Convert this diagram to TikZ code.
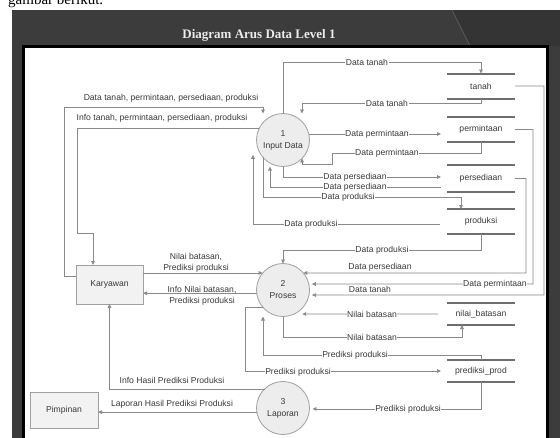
\documentclass[tikz,border=0pt]{standalone}
\usepackage{fontspec}
\setmainfont{Liberation Serif}
\newfontfamily\lbf{Liberation Sans}
\usetikzlibrary{arrows.meta}
\definecolor{framec}{HTML}{3C3C3C}
\definecolor{framed}{HTML}{343434}
\definecolor{diagc}{HTML}{595959}
\definecolor{linec}{HTML}{8A8A8A}
\definecolor{txtc}{HTML}{3A3A3A}
\definecolor{procb}{HTML}{A0A0A0}
\definecolor{procf}{HTML}{EDEDED}
\definecolor{extf}{HTML}{F2F2F2}
\definecolor{stc}{HTML}{6E6E6E}
\tikzset{
  flow/.style={draw=linec, line width=0.75pt},
  arr/.style={flow, -{Triangle[length=4pt,width=3.6pt]}},
  lbl/.style={font=\lbf\fontsize{8.6}{10.6}\selectfont, text=txtc, inner sep=0.6pt, fill=white, align=center},
  lbln/.style={lbl, fill=none},
  proc/.style={circle, draw=procb, fill=procf, line width=0.8pt, minimum size=53pt, inner sep=0pt, outer sep=0pt, align=center, font=\lbf\fontsize{8.6}{12}\selectfont, text=txtc},
  ext/.style={rectangle, draw=procb, fill=extf, line width=0.8pt, inner sep=0pt, outer sep=0pt, font=\lbf\fontsize{8.6}{10}\selectfont, text=txtc},
  store/.style={rectangle, minimum width=68pt, inner sep=0pt, outer sep=0pt, font=\lbf\fontsize{8.6}{10}\selectfont, text=txtc},
  stline/.style={draw=stc, line width=2pt}
}
\begin{document}
\begin{tikzpicture}[x=1pt,y=-1pt]
\useasboundingbox (0,0) rectangle (560,437);
% slide background
\fill[white] (0,0) rectangle (560,437);
\begin{scope}
\clip (0,0) rectangle (560,10);
\node[anchor=base west, inner sep=0pt, font=\fontsize{15}{17}\selectfont] (top) at (8,4.5) {gambar berikut.};
\end{scope}
\fill[framec] (12,10) rectangle (560,442);
\fill[framed] (452,10) -- (560,10) -- (560,46) -- (470,46) -- cycle;
\draw[diagc, line width=0.8pt] (452,10) -- (470,46);
\node[anchor=base, inner sep=0pt, text=white!92!black, font=\bfseries\fontsize{13}{15}\selectfont] (title) at (259,38.5) {Diagram Arus Data Level 1};
\draw[black, line width=3pt, fill=white] (23.5,46.5) rectangle (547.5,446);

% processes
\node[proc] (c1) at (283,140) {1\\Input Data};
\node[proc] (c2) at (283,290) {2\\Proses};
\node[proc] (c3) at (283,408) {3\\Laporan};
% external entities
\node[ext, minimum width=67pt, minimum height=39pt] (kar) at (109.5,284.5) {Karyawan};
\node[ext, minimum width=68pt, minimum height=36pt] (pim) at (64,410) {Pimpinan};
% data stores
\node[store, minimum height=25pt] (s1) at (481,86) {tanah};
\node[store, minimum height=25pt] (s2) at (481,129.5) {permintaan};
\node[store, minimum height=27pt] (s3) at (481,178.5) {persediaan};
\node[store, minimum height=25pt] (s4) at (481,221.5) {produksi};
\node[store, minimum height=22pt] (s5) at (481,314) {nilai\_batasan};
\node[store, minimum height=22pt] (s6) at (481,371) {prediksi\_prod};
\foreach \s in {s1,s2,s3,s4,s5,s6}
  \draw[stline] (\s.north west) -- (\s.north east) (\s.south west) -- (\s.south east);

% flows around process 1
\draw[arr] (c1.north) |- (481,62) -- (s1.north);
\draw[arr] (s1.south) |- (302,103) -- (c1.north -| 302,0);
\draw[arr, shorten >=6pt] (c1.13) -- (c1.13 -| s2.west);
\draw[arr] (s2.south) |- (332,153) -- (332,164) -| (c1.-44);
\draw[arr, shorten >=6pt] (c1.south) |- (s3.west |- 0,177);
\draw[arr, shorten <=6pt] (s3.west |- 0,187) -| (c1.south -| 270,0);
\draw[arr] (c1.-139) |- (461,197) -- (s4.north -| 461,0);
\draw[arr, shorten <=7pt] (s4.west |- 0,224) -| (c1.-146 -| 253,0);
\draw[arr] (kar.west |- 0,276) -| (64,107) -| (c1.north -| 263,0);
\draw[arr] (c1.153) -| (77,233) -| (kar.north -| 93,0);

% flows around process 2
\draw[arr] (c2.140 -| kar.east) -- (c2.140);
\draw[arr] (c2.-173) -- (c2.-173 -| kar.east);
\draw[arr] (s4.south) |- (c2.north |- 0,250) -- (c2.north);
\draw[arr] (s3.east) -| (526,273) -- (c2.40);
\draw[arr, shorten >=3pt] (s2.east) -| (533,284) -- (c2.13);
\draw[arr, shorten >=3pt] (s1.east) -| (544,295) -- (c2.-11);
\draw[arr, shorten >=8pt] ([xshift=-9pt]s5.west) -- (c2.-65);
\draw[arr] (c2.south) |- (462,337) -- (s5.south -| 462,0);
\draw[arr] (s6.north) |- (263,355) -- (c2.south -| 263,0);
\draw[arr, shorten >=6pt] (c2.-140) -| (245,371) -- (s6.west);

% flows around process 3
\draw[arr, shorten >=3pt] (s6.south) |- (c3.-2);
\draw[arr] (c3.134) -| (kar.south);
\draw[arr] (c3.-171) -- (c3.-171 -| pim.east);

% labels
\node[lbl] (l1) at (367,62) {Data tanah};
\node[lbl] (l2) at (387,103) {Data tanah};
\node[lbl] (l3) at (377,134) {Data permintaan};
\node[lbl] (l4) at (387,153) {Data permintaan};
\node[lbl] (l5) at (355,177) {Data persediaan};
\node[lbl] (l6) at (355,187) {Data persediaan};
\node[lbl] (l7) at (348,197) {Data produksi};
\node[lbl] (l8) at (311,224) {Data produksi};
\node[lbl] (l9) at (382,250) {Data produksi};
\node[lbln] (l10) at (380,267) {Data persediaan};
\node[lbl] (l11) at (495,284) {Data permintaan};
\node[lbln] (l12) at (370,289) {Data tanah};
\node[lbl] (l13) at (372,314) {Nilai batasan};
\node[lbl] (l14) at (372,337) {Nilai batasan};
\node[lbl] (l15) at (355,355) {Prediksi produksi};
\node[lbl] (l16) at (298,372) {Prediksi produksi};
\node[lbl] (l17) at (408,409) {Prediksi produksi};
\node[lbln] (l18) at (172,380) {Info Hasil Prediksi Produksi};
\node[lbln] (l19) at (172,404) {Laporan Hasil Prediksi Produksi};
\node[lbln] (l20) at (171,98) {Data tanah, permintaan, persediaan, produksi};
\node[lbln] (l21) at (162,118) {Info tanah, permintaan, persediaan, produksi};
\node[lbln] (l22) at (196,262.5) {Nilai batasan,\\Prediksi produksi};
\node[lbln] (l23) at (202,295.5) {Info Nilai batasan,\\Prediksi produksi};
\end{tikzpicture}
\end{document}
